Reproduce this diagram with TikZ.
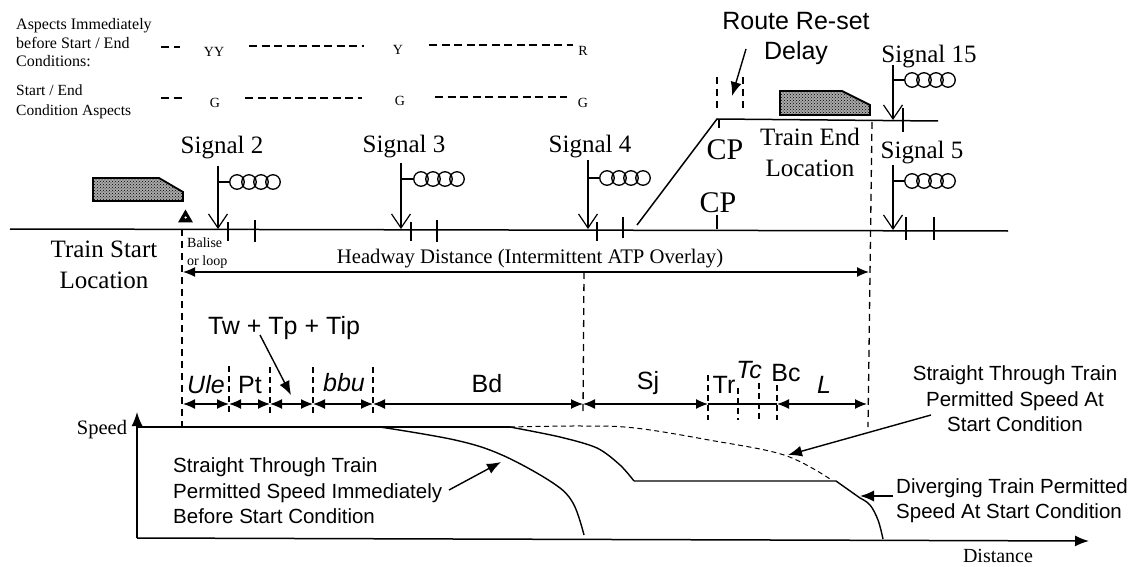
\documentclass[tikz,border=0pt]{standalone}
\usepackage{fontspec}
\setmainfont{Liberation Serif}
\setsansfont{Liberation Sans}
\usepackage{xcolor}
\usetikzlibrary{shapes.geometric,arrows.meta,patterns}
\definecolor{trainGrey}{HTML}{A8A8A8}

\tikzset{
  serifbig/.style={font=\fontsize{25}{31}\selectfont, inner sep=0pt, align=center},
  sansbig/.style={font=\sffamily\fontsize{25}{30}\selectfont, inner sep=0pt, align=center},
  sansmid/.style={font=\sffamily\fontsize{20.5}{25.5}\selectfont, inner sep=0pt},
  aspect/.style={font=\fontsize{14}{14}\selectfont, inner sep=0pt},
  note/.style={font=\fontsize{16}{18.5}\selectfont, inner sep=0pt, align=left, anchor=west},
  track/.style={line width=1.5pt},
  mast/.style={line width=1.2pt, -{Straight Barb[length=14pt,width=19pt]}},
  lamp/.style={circle, draw, line width=1.3pt, minimum size=14.5pt, inner sep=0pt},
  guide/.style={line width=1.3pt, dash pattern=on 7pt off 5pt},
  aspectdash/.style={line width=1.3pt, dash pattern=on 8pt off 4.5pt},
  span/.style={line width=1.3pt, {Latex[length=12pt,width=10pt]}-{Latex[length=12pt,width=10pt]}},
  leader/.style={line width=1.4pt, -{Latex[length=14pt,width=11pt]}},
  train/.style={draw, line width=1.8pt, preaction={fill=trainGrey}, pattern=crosshatch dots, pattern color=black},
  speed/.style={line width=1.4pt}
}

\begin{document}
\begin{tikzpicture}[x=1pt,y=-1pt]
  \useasboundingbox (0,0) rectangle (1146,567);

  % aspect table
  \node[note] (aspectsBefore) at (16,43) {Aspects Immediately\\before Start / End\\Conditions:};
  \node[note, font=\fontsize{15.5}{20}\selectfont] (aspectsStart) at (16,102) {Start / End\\Condition Aspects};
  \node[aspect] (yy) at (214,52) {YY};
  \node[aspect] (y) at (398,50) {Y};
  \node[aspect] (r) at (583,51) {R};
  \node[aspect] (g1) at (215,103) {G};
  \node[aspect] (g2) at (400,101) {G};
  \node[aspect] (g3) at (583,103) {G};
  \draw[aspectdash] (161,47) -- (180,47);
  \draw[aspectdash] (249,46) -- (364,46);
  \draw[aspectdash] (429,45) -- (573,45);
  \draw[aspectdash] (161,98) -- (183,98);
  \draw[aspectdash] (245,98) -- (362,98);
  \draw[aspectdash] (435,97) -- (567,97);

  % tracks
  \coordinate (mainL) at (10,229);
  \coordinate (mainR) at (1008,231);
  \coordinate (branchB) at (637,225);
  \coordinate (branchT) at (717,119);
  \coordinate (upperR) at (938,121);
  \draw[track] (mainL) -- (mainR);
  \draw[track] (branchB) -- (branchT) -- (upperR);
  \foreach \x/\ya/\yb in {228/222/241,255/220/242,411/222/241,437/220/242,597/222/241,623/217/238,
                          717/215/229,719/120/128,903/108/132,906/217/240,934/217/240}
    \draw[line width=1.2pt] (\x,\ya) -- (\x,\yb);

  % signals
  \foreach \i/\mx/\mt/\mb/\hx/\hy in {2/218/166/229/230/182,3/401/163/229/414/179,4/588/160/229/600/178,
                                      15/893/65/120/905/80,5/893/165/230/905/181}{
    \coordinate (mast\i top) at (\mx,\mt);
    \coordinate (mast\i foot) at (\mx,\mb);
    \coordinate (mast\i arm) at (\mx,\hy);
    \draw[mast] (mast\i top) -- (mast\i foot);
    \foreach \k in {0,1,2,3}
      \node[lamp] (lamp\i\k) at ({\hx+7+\k*12},\hy) {};
    \draw[line width=1.2pt] (mast\i arm) -- (lamp\i0.west);
  }
  \node[serifbig] (sig2) at (222,148) {Signal 2};
  \node[serifbig] (sig3) at (404,147) {Signal 3};
  \node[serifbig] (sig4) at (590,147) {Signal 4};
  \node[serifbig] (sig15) at (929,57) {Signal 15};
  \node[serifbig] (sig5) at (922,153) {Signal 5};

  % trains
  \draw[train] (93,178) -- (159,178) -- (183,192) -- (183,201) -- (93,201) -- cycle;
  \draw[train] (780,91) -- (842,91) -- (870,105) -- (870,115) -- (780,115) -- cycle;
  \node[regular polygon, regular polygon sides=3, fill=black, minimum size=17pt, inner sep=0pt] (balise) at (185.5,218) {};
  \node[circle, fill=white, minimum size=2.5pt, inner sep=0pt] (baliseDot) at (185.5,217.5) {};

  % location labels
  \node[serifbig] (startLoc) at (104,265) {Train Start\\Location};
  \node[serifbig] (endLoc) at (810,152.5) {Train End\\Location};
  \node[serifbig, font=\fontsize{30}{30}\selectfont] (cpUpper) at (725,150) {CP};
  \node[serifbig, font=\fontsize{30}{30}\selectfont] (cpLower) at (718,203) {CP};
  \node[font=\fontsize{14}{18}\selectfont, inner sep=0pt, align=left, anchor=west] (loop) at (187,253) {Balise\\or loop};
  \node[font=\fontsize{20.7}{24}\selectfont, inner sep=0pt] (headway) at (530,259) {Headway Distance (Intermittent ATP Overlay)};

  % route re-set
  \node[sansbig] (reset) at (796,38) {Route Re-set\\Delay};
  \coordinate (resetFrom) at (746,49);
  \coordinate (resetTo) at (732,96);
  \draw[leader] (resetFrom) -- (resetTo);
  \draw[guide] (717,77) -- (717,113);
  \draw[guide] (743,77) -- (743,113);

  % headway guides
  \coordinate (startTop) at (182,229);
  \coordinate (startFoot) at (182,427);
  \coordinate (endTop) at (872,122);
  \coordinate (endFoot) at (868,427);
  \coordinate (hwL) at (183,272);
  \coordinate (hwR) at (869,272);
  \coordinate (hwMid) at (584,272);
  \draw[guide] (startTop) -- (startFoot);
  \draw[guide] (endTop) -- (endFoot);
  \draw[guide] (hwMid) -- (583,413);
  \draw[span] (hwL) -- (hwR);

  % time components
  \foreach \x/\ya/\yb in {229/366/413,270/367/413,313/367/413,373/367/413,708/375/420,738/388/420,759/383/420,777/385/420}
    \draw[line width=1.2pt, dash pattern=on 6pt off 4pt] (\x,\ya) -- (\x,\yb);
  \foreach \n/\x in {a/183,b/229,c/270,d/313,e/373,f/583,g/708,h/777,i/867}
    \coordinate (dim\n) at (\x,404);
  \draw[span] (dima) -- (dimb);
  \draw[span] (dimb) -- (dimc);
  \draw[span] (dimc) -- (dimd);
  \draw[span] (dimd) -- (dime);
  \draw[span] (dime) -- (dimf);
  \draw[span] (dimf) -- (dimg);
  \draw[line width=1.3pt] (dimg) -- (dimh);
  \draw[span] (dimh) -- (dimi);

  \node[sansbig] (sum) at (284,328) {Tw + Tp + Tip};
  \coordinate (sumFrom) at (260,335);
  \coordinate (sumTo) at (291,395);
  \draw[leader] (sumFrom) -- (sumTo);
  \node[sansbig, font=\sffamily\itshape\fontsize{25}{30}\selectfont] (ule) at (206,385) {Ule};
  \node[sansbig] (pt) at (250,385) {Pt};
  \node[sansbig, font=\sffamily\itshape\fontsize{25}{30}\selectfont] (bbu) at (344,383) {bbu};
  \node[sansbig] (bd) at (487,384) {Bd};
  \node[sansbig] (sj) at (648,383) {Sj};
  \node[sansbig] (tr) at (724,385) {Tr};
  \node[sansbig, font=\sffamily\itshape\fontsize{25}{30}\selectfont] (tc) at (749,370) {Tc};
  \node[sansbig] (bc) at (786,373) {Bc};
  \node[sansbig, font=\sffamily\itshape\fontsize{25}{30}\selectfont] (ell) at (824,385) {L};

  % speed graph
  \coordinate (origin) at (137,538);
  \coordinate (speedTip) at (137,412);
  \coordinate (distTip) at (1089,541);
  \coordinate (topLeft) at (137,427);
  \draw[line width=1.5pt, -{Latex[length=14pt,width=11pt]}] (origin) -- (speedTip);
  \draw[line width=1.5pt, -{Latex[length=14pt,width=11pt]}] (origin) -- (distTip);
  \node[font=\fontsize{20.5}{24}\selectfont, inner sep=0pt] (speedLabel) at (102,430) {Speed};
  \node[font=\fontsize{20}{22}\selectfont, inner sep=0pt] (distLabel) at (998,556) {Distance};

  \coordinate (curveB) at (510,427);
  \draw[speed] (topLeft) -- (curveB);
  \draw[speed] plot[smooth, tension=0.6] coordinates {(380,427) (455,440) (502,455) (553,483) (573,503) (584,535)};
  \draw[speed] plot[smooth, tension=0.5] coordinates {(510,427) (560,437) (597,448) (620,465) (634,481)};
  \draw[speed] (634,481) -- (836,481) -- (860,498);
  \draw[speed] plot[smooth, tension=0.6] coordinates {(860,498) (870,505) (878,520) (883,539)};
  \draw[line width=1pt, dash pattern=on 5pt off 3.5pt] plot[smooth, tension=0.6] coordinates {(510,427) (582,426) (635,428) (709,440) (784,455) (830,479)};

  % graph notes
  \node[sansmid, align=left, anchor=west] (noteBefore) at (173,491) {Straight Through Train\\Permitted Speed Immediately\\Before Start Condition};
  \coordinate (beforeFrom) at (449,490);
  \coordinate (beforeTo) at (501,462);
  \draw[leader] (beforeFrom) -- (beforeTo);
  \node[sansmid, align=center] (noteAt) at (1015,399) {Straight Through Train\\Permitted Speed At\\Start Condition};
  \coordinate (atFrom) at (931,415);
  \coordinate (atTo) at (788,455);
  \draw[leader] (atFrom) -- (atTo);
  \node[sansmid, align=left, anchor=west] (noteDiv) at (896,500.5) {Diverging Train Permitted\\Speed At Start Condition};
  \coordinate (divFrom) at (893,496);
  \coordinate (divTo) at (860,496);
  \draw[leader] (divFrom) -- (divTo);
\end{tikzpicture}
\end{document}
